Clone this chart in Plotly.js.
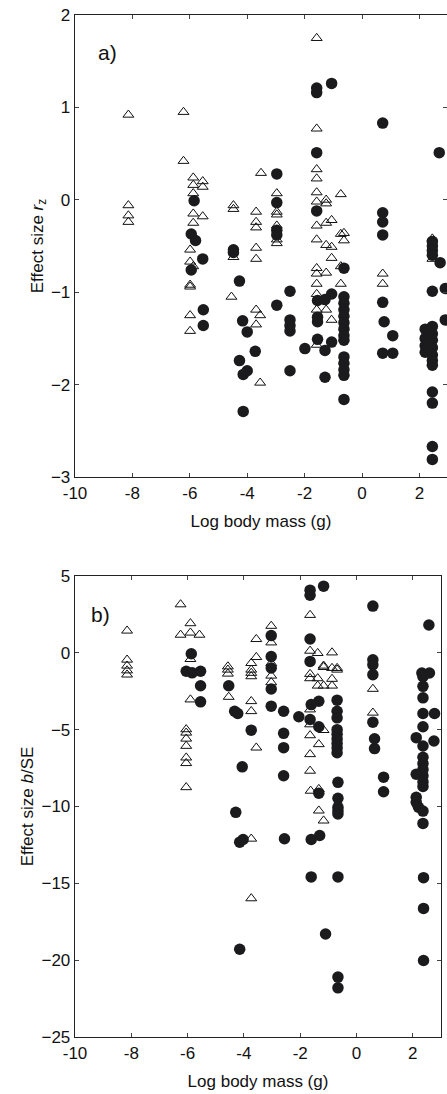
<!DOCTYPE html>
<html>
<head>
<meta charset="utf-8">
<script src="https://cdn.plot.ly/plotly-3.0.1.min.js"></script>
<style>
  html, body { margin: 0; padding: 0; background: #fff; }
  #chart { width: 447px; height: 1094px; }
</style>
</head>
<body>
<div id="chart"></div>
<script>
// ---------- Panel a) : effect size r_z ----------
var topTriX = [-8.14,-8.14,-8.14,-8.14,
  -6.22,-6.22,
  -5.88,-5.88,-5.88,-5.88,-5.88,
  -5.55,-5.55,-5.55,
  -5.99,-5.99,-5.88,-5.99,-5.99,-5.99,-5.99,
  -4.48,-4.48,-4.48,-4.55,
  -3.69,-3.69,-3.69,-3.69,-3.69,-3.69,-3.55,-3.69,-3.55,-3.52,
  -2.97,-2.97,-2.97,-2.97,-2.97,-2.97,
  -1.58,-1.58,-1.58,-1.58,-1.58,-1.58,-1.58,-1.58,-1.58,-1.58,-1.58,-1.58,-1.58,-1.58,
  -1.25,-1.25,-1.25,-1.25,-1.25,-1.25,
  -1.06,-1.06,-1.06,-1.06,
  -0.74,-0.74,-0.63,-0.63,-0.74,-0.74,
  0.72,0.72,
  2.45,2.45];
var topTriY = [0.92,-0.06,-0.17,-0.24,
  0.95,0.42,
  0.24,0.16,0.07,-0.15,-0.25,
  0.20,0.14,-0.18,
  -0.54,-0.67,-0.72,-0.92,-0.94,-1.25,-1.42,
  -0.06,-0.10,-0.62,-1.05,
  -0.13,-0.24,-0.30,-0.52,-0.64,-1.19,-1.25,-1.35,-1.98,0.29,
  0.07,-0.13,-0.16,-0.28,-0.43,-0.47,
  1.75,0.77,0.33,0.23,0.08,-0.02,-0.28,-0.43,-0.74,-0.80,-0.91,-1.02,-1.19,-1.57,
  0.00,-0.04,-0.25,-0.49,-0.79,-1.19,
  -0.22,-0.51,-0.63,-1.30,
  0.06,-0.37,-0.36,-0.44,-0.72,-0.91,
  -0.80,-0.91,
  -0.42,-0.64];

var topCircX = [-5.85,-5.95,-5.80,-5.55,-5.95,-5.53,-5.53,
  -4.48,-4.48,-4.27,-4.16,-4.00,-3.72,-4.27,-4.14,-4.00,-4.14,
  -2.97,-2.97,-2.97,-2.97,-2.97,
  -2.51,-2.51,-2.51,-2.51,-2.51,
  -1.99,
  -1.58,-1.58,-1.58,-1.58,-1.55,-1.55,-1.55,-1.55,
  -1.06,-1.29,-1.06,-1.06,-1.29,-1.29,
  -0.63,-0.63,-0.63,-0.63,-0.63,-0.63,-0.63,-0.63,-0.63,-0.63,-0.63,-0.63,-0.63,-0.63,
  0.72,0.72,0.72,0.72,0.72,0.77,1.07,0.72,1.07,
  2.69,2.45,2.45,2.45,2.45,2.72,2.45,2.90,2.90,
  2.20,2.20,2.20,2.20,2.45,2.45,2.45,2.45,2.45,2.45,2.45,2.45,2.45,2.45,2.45];
var topCircY = [-0.01,-0.37,-0.44,-0.64,-0.76,-1.19,-1.36,
  -0.54,-0.57,-0.88,-1.31,-1.43,-1.64,-1.74,-1.89,-1.85,-2.29,
  0.28,-0.03,-0.33,-0.38,-1.14,
  -0.99,-1.30,-1.36,-1.42,-1.85,
  -1.61,
  1.21,1.16,0.51,-0.12,-1.09,-1.27,-1.32,-1.51,
  1.26,-1.08,-1.02,-1.54,-1.63,-1.92,
  -0.74,-1.05,-1.12,-1.19,-1.26,-1.33,-1.40,-1.47,-1.52,-1.70,-1.77,-1.84,-1.90,-2.16,
  0.83,-0.14,-0.24,-0.38,-1.11,-1.32,-1.47,-1.66,-1.66,
  0.51,-0.45,-0.50,-0.55,-0.60,-0.68,-0.99,-0.96,-1.30,
  -1.40,-1.50,-1.58,-1.65,-1.37,-1.45,-1.52,-1.60,-1.68,-1.74,-1.79,-2.08,-2.20,-2.67,-2.81];

// ---------- Panel b) : effect size b/SE ----------
var botTriX = [-8.15,-8.15,-8.15,-8.15,-8.15,
  -6.25,-6.25,-5.90,-5.90,-5.58,-5.90,-5.90,
  -6.05,-6.05,-6.05,-6.05,-6.05,-6.05,-6.05,
  -4.57,-4.57,-4.57,-4.54,
  -3.74,-3.74,-3.74,-3.74,-3.74,-3.74,-3.56,-3.56,-3.56,-3.74,-3.74,
  -3.03,-3.03,-3.03,-3.03,-3.03,
  -1.65,-1.65,-1.65,-1.65,-1.65,-1.65,-1.65,-1.65,-1.65,-1.63,
  -1.38,-1.38,-1.38,-1.34,-1.34,-1.34,
  -1.17,-1.17,-1.17,-1.17,-1.17,
  -0.87,-0.87,-0.87,-0.87,-0.69,-0.69,
  0.58,0.58];
var botTriY = [1.44,-0.45,-0.84,-1.15,-1.42,
  3.15,1.17,1.92,1.31,1.17,-0.41,-3.04,
  -4.98,-5.20,-5.59,-6.06,-6.82,-7.18,-8.75,
  -0.89,-1.10,-1.36,-2.87,
  -0.67,-1.10,-1.31,-1.53,-3.15,-3.80,0.89,-0.28,-6.17,-12.10,-15.98,
  1.75,0.67,-0.67,-1.49,-1.92,
  2.46,0.13,-1.38,-1.66,-3.69,-4.66,-5.37,-6.60,-7.68,-8.98,
  -0.02,-1.66,-2.14,-5.95,-8.87,-10.27,
  -0.84,-0.93,-2.14,-5.03,-10.92,
  0.02,-0.99,-1.70,-2.14,-0.99,-1.10,
  -2.35,-3.90];

var botCircX = [-5.87,-6.05,-5.84,-5.54,-5.54,-5.54,
  -4.54,-4.33,-4.22,-3.74,-4.06,-4.29,-4.15,-4.03,-4.15,
  -3.03,-3.03,-3.03,-3.03,-3.03,
  -2.59,-2.59,-2.59,-2.59,-2.56,-2.05,
  -1.65,-1.65,-1.65,-1.65,-1.61,-1.65,-1.61,-1.61,
  -1.34,-1.34,-1.34,-1.31,-1.17,-1.10,
  -0.69,-0.69,-0.69,-0.69,-0.69,-0.69,-0.69,-0.69,-0.69,-0.66,-0.66,-0.66,-0.66,-0.66,-0.66,-0.66,-0.66,
  0.58,0.58,0.58,0.58,0.58,0.64,0.64,0.96,0.96,
  2.57,2.32,2.59,2.36,2.36,2.36,2.36,2.77,2.36,2.12,2.75,2.36,2.36,2.36,2.36,2.36,2.36,2.36,2.12,2.12,2.12,2.20,2.36,2.36,2.38,2.38,2.38];
var botCircY = [-0.06,-1.20,-1.30,-1.20,-2.14,-3.19,
  -2.14,-3.80,-3.95,-5.03,-7.42,-10.38,-12.32,-12.15,-19.29,
  1.12,-0.24,-0.99,-2.35,-3.47,
  -3.80,-5.24,-6.17,-8.00,-12.10,-4.16,
  4.08,3.75,0.90,-0.56,-3.37,-4.34,-12.15,-14.58,
  -3.15,-4.81,-9.13,-11.89,4.34,-18.30,
  -3.08,-3.80,-4.23,-5.00,-5.30,-5.60,-5.90,-6.20,-6.50,-8.43,-9.47,-10.05,-10.27,-10.49,-14.58,-21.10,-21.80,
  3.04,-0.45,-0.78,-1.42,-4.51,-5.59,-6.23,-8.09,-9.04,
  1.81,-1.31,-1.31,-1.55,-2.18,-2.93,-3.95,-3.95,-4.81,-5.52,-5.74,-6.06,-6.80,-7.20,-7.60,-8.00,-8.40,-8.70,-7.90,-9.40,-9.73,-10.05,-10.30,-11.10,-14.63,-16.63,-20.02];

var xTickVals = [-10, -8, -6, -4, -2, 0, 2];
var xTickText = ['-10', '-8', '-6', '-4', '-2', '0', '2'];
var yTopTicks = [-3, -2, -1, 0, 1, 2];
var yBotTicks = [-25, -20, -15, -10, -5, 0, 5];

var FONT = 'Arial, "Liberation Sans", Helvetica, sans-serif';
var W = 447, H = 1094;
var circ = {symbol: 'circle', size: 11.5, color: '#1b1b1d', line: {width: 0}};
var tri = {symbol: 'triangle-up-open', size: 9.5, color: '#111', line: {width: 1, color: '#111'}};

var traces = [
  {x: topTriX, y: topTriY, xaxis: 'x', yaxis: 'y', type: 'scatter', mode: 'markers', marker: tri, cliponaxis: false},
  {x: topCircX, y: topCircY, xaxis: 'x', yaxis: 'y', type: 'scatter', mode: 'markers', marker: circ, cliponaxis: false},
  {x: botTriX, y: botTriY, xaxis: 'x2', yaxis: 'y2', type: 'scatter', mode: 'markers', marker: tri},
  {x: botCircX, y: botCircY, xaxis: 'x2', yaxis: 'y2', type: 'scatter', mode: 'markers', marker: circ}
];

function axisBase() {
  return {
    showgrid: false, zeroline: false, showline: true, linecolor: '#222', linewidth: 1.3,
    mirror: 'ticks', ticks: 'inside', ticklen: 4, tickwidth: 1, tickcolor: '#444',
    tickfont: {family: FONT, size: 17, color: '#111'}, automargin: false, fixedrange: true
  };
}
var titleFont = {family: FONT, size: 17, color: '#111'};

var xa = axisBase();
Object.assign(xa, {domain: [75 / W, 1], range: [-10, 2.96], tickvals: xTickVals, ticktext: xTickText, anchor: 'y',
  title: {text: 'Log body mass (g)', font: titleFont, standoff: 13}});
var ya = axisBase();
Object.assign(ya, {domain: [1 - 477 / H, 1 - 15 / H], range: [-3, 2], tickvals: yTopTicks, anchor: 'x',
  title: {text: 'Effect size <i>r</i><sub>z</sub>', font: titleFont, standoff: 3}});
var xa2 = axisBase();
Object.assign(xa2, {domain: [75 / W, 441 / W], range: [-10, 3], tickvals: xTickVals, ticktext: xTickText, anchor: 'y2',
  title: {text: 'Log body mass (g)', font: titleFont, standoff: 13}});
var ya2 = axisBase();
Object.assign(ya2, {domain: [1 - 1037 / H, 1 - 576 / H], range: [-25, 5], tickvals: yBotTicks, anchor: 'x2',
  title: {text: 'Effect size <i>b</i>/SE', font: titleFont, standoff: 3}});

var layout = {
  width: W, height: H,
  margin: {l: 0, r: 0, t: 0, b: 0, pad: 0},
  paper_bgcolor: '#fff', plot_bgcolor: '#fff',
  showlegend: false,
  font: {family: FONT, size: 17, color: '#111'},
  xaxis: xa, yaxis: ya, xaxis2: xa2, yaxis2: ya2,
  annotations: [
    {text: 'a)', xref: 'paper', yref: 'paper', x: 96 / W, y: 1 - 53 / H, xanchor: 'left', yanchor: 'middle', showarrow: false,
      font: {family: FONT, size: 21, color: '#111'}},
    {text: 'b)', xref: 'paper', yref: 'paper', x: 89 / W, y: 1 - 614 / H, xanchor: 'left', yanchor: 'middle', showarrow: false,
      font: {family: FONT, size: 21, color: '#111'}}
  ]
};

Plotly.newPlot('chart', traces, layout, {staticPlot: true, displayModeBar: false});
</script>
</body>
</html>
